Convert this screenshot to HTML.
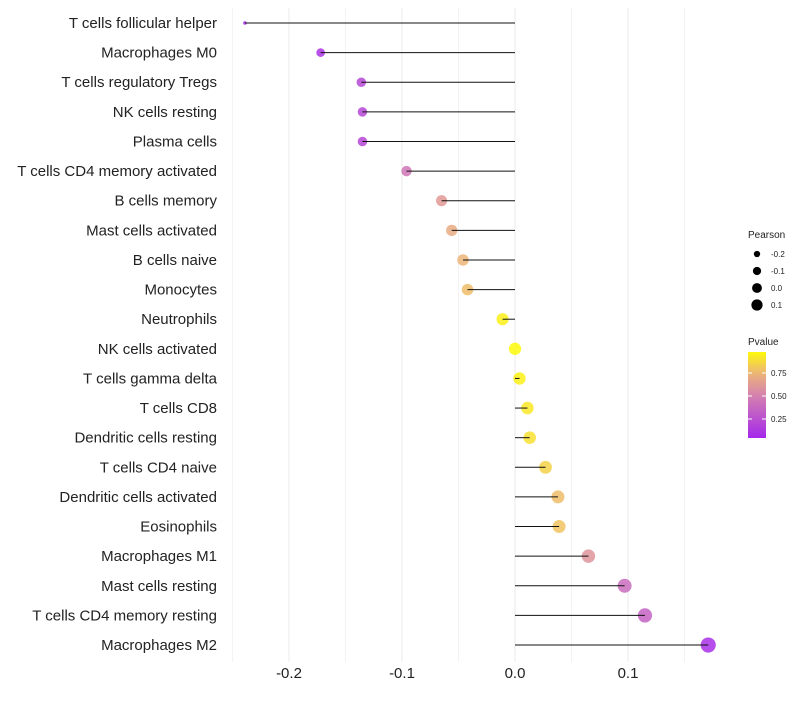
<!DOCTYPE html>
<html><head><meta charset="utf-8"><style>
body{margin:0;background:#fff;font-family:"Liberation Sans",sans-serif}
</style></head><body>
<svg id="c" width="800" height="700" xmlns="http://www.w3.org/2000/svg"></svg>
<script>
const cells=["T cells follicular helper","Macrophages M0","T cells regulatory  Tregs ","NK cells resting","Plasma cells","T cells CD4 memory activated","B cells memory","Mast cells activated","B cells naive","Monocytes","Neutrophils","NK cells activated","T cells gamma delta","T cells CD8","Dendritic cells resting","T cells CD4 naive","Dendritic cells activated","Eosinophils","Macrophages M1","Mast cells resting","T cells CD4 memory resting","Macrophages M2"];
const pearson=[-0.239,-0.172,-0.136,-0.135,-0.135,-0.096,-0.065,-0.056,-0.046,-0.042,-0.011,0.000,0.004,0.011,0.013,0.027,0.038,0.039,0.065,0.097,0.115,0.171];
const pvalue=[0.05,0.1,0.2,0.2,0.2,0.45,0.62,0.7,0.75,0.78,0.95,0.98,0.95,0.92,0.9,0.85,0.78,0.8,0.6,0.4,0.35,0.08];
const xTicks=[-0.2,-0.1,0.0,0.1];
const xTickLabels=["-0.2","-0.1","0.0","0.1"];
const sizeLegend=[-0.2,-0.1,0.0,0.1];
const colorLegend=[0.25,0.5,0.75];

const NS="http://www.w3.org/2000/svg",svg=document.getElementById('c');
function mk(t,a,p){const e=document.createElementNS(NS,t);for(const k in a)e.setAttribute(k,a[k]);(p||svg).appendChild(e);return e;}
const x=v=>515+v*1130;
const y=i=>23+i*29.62;
const r=v=>v<-0.2?1.8:1.08*Math.sqrt(Math.max(1,16+(v+0.172)*96));
function lerp(a,b,t){return a.map((v,i)=>Math.round(v+(b[i]-v)*t));}
const stops=[[0,[160,32,240]],[0.5,[212,128,176]],[0.75,[236,180,120]],[1,[255,255,0]]];
function col(p){for(let i=1;i<stops.length;i++){if(p<=stops[i][0]){const t=(p-stops[i-1][0])/(stops[i][0]-stops[i-1][0]);return 'rgb('+lerp(stops[i-1][1],stops[i][1],t).join(',')+')';}}return 'rgb(255,255,0)';}

for(let k=0;k<=8;k++){const v=-0.25+k*0.05;const g=mk('line',{x1:x(v),x2:x(v),y1:8,y2:662,stroke:k%2===1?'#ebebeb':'#f3f3f3','stroke-width':1});}
xTicks.forEach((v,i)=>{const t=mk('text',{x:x(v),y:678,'text-anchor':'middle','font-size':15,fill:'#222'});t.textContent=xTickLabels[i];});
cells.forEach((c,i)=>{
 const t=mk('text',{x:217,y:y(i)+5,'text-anchor':'end','font-size':15,fill:'#222'});t.textContent=c;
 
 const d=mk('circle',{cx:x(pearson[i]),cy:y(i),r:r(pearson[i]),fill:col(pvalue[i]),'fill-opacity':0.85});
 
 const l=mk('line',{x1:x(0),x2:x(pearson[i]),y1:y(i),y2:y(i),stroke:'#111','stroke-width':1});
 
});
const g1=mk('g',{});
mk('text',{x:748,y:238,'font-size':10,fill:'#222'},g1).textContent='Pearson';
sizeLegend.forEach((v,i)=>{const cy=254+i*17;mk('circle',{cx:757,cy:cy,r:r(v)*0.8,fill:'#000'},g1);mk('text',{x:771,y:cy+3,'font-size':8,fill:'#222'},g1).textContent=v.toFixed(1);});
const g2=mk('g',{});
mk('text',{x:748,y:345,'font-size':10,fill:'#222'},g2).textContent='Pvalue';
const defs=mk('defs',{});const lg=mk('linearGradient',{id:'pg',x1:0,y1:1,x2:0,y2:0},defs);
for(let k=0;k<=10;k++){const p=0.04+k*0.094;mk('stop',{offset:k/10,'stop-color':col(p)},lg);}
mk('rect',{x:748,y:352,width:18,height:86,fill:'url(#pg)'},g2);
const py=p=>442-p*92;
colorLegend.forEach(p=>{mk('line',{x1:748,x2:752,y1:py(p),y2:py(p),stroke:'#fff'},g2);mk('line',{x1:762,x2:766,y1:py(p),y2:py(p),stroke:'#fff'},g2);mk('text',{x:771,y:py(p)+3,'font-size':8,fill:'#222'},g2).textContent=p.toFixed(2);});
</script>
</body></html>
